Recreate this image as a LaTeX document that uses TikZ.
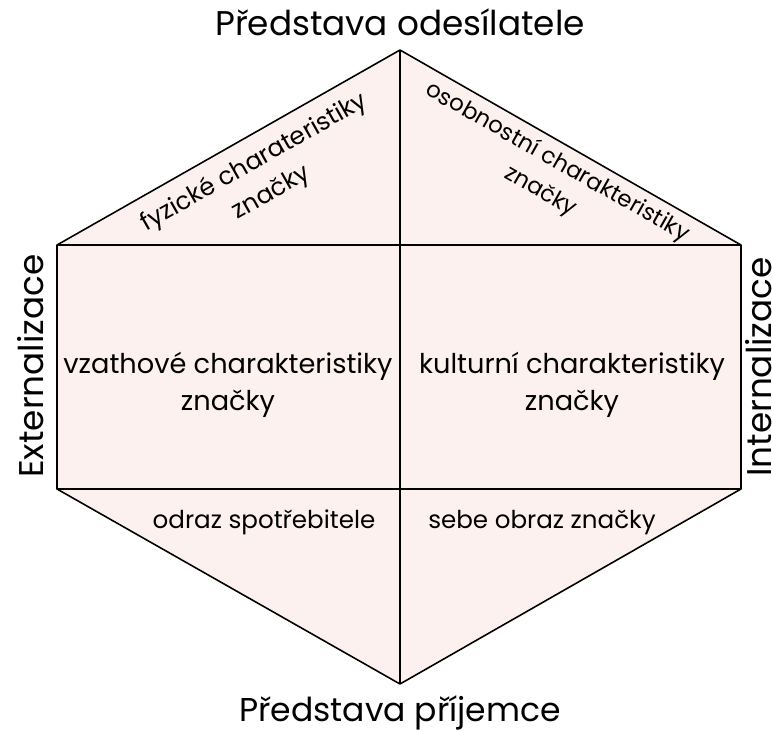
\documentclass[tikz,border=0pt]{standalone}
\usepackage{fontspec}
\setmainfont{Poppins}
\usepackage{tikz}
\usetikzlibrary{positioning}
\definecolor{hexfill}{HTML}{FDF1EF}
\tikzset{edge/.style={draw=black,line width=0.9pt},
  cell/.style={align=center,font=\fontsize{15.5}{21}\selectfont,inner sep=1pt},
  small/.style={cell,font=\fontsize{14}{20}\selectfont},
  side/.style={font=\fontsize{19.5}{22}\selectfont,inner sep=0pt}}

\begin{document}
\begin{tikzpicture}[x=0.02cm,y=-0.02cm]
\useasboundingbox (0,0) rectangle (772,731);
% corners of the hexagon
\coordinate (top) at (400,50);
\coordinate (ul) at (57,245);
\coordinate (ur) at (741,245);
\coordinate (ll) at (57,489);
\coordinate (lr) at (741,489);
\coordinate (bot) at (400,684);
\fill[hexfill] (top) -- (ur) -- (lr) -- (bot) -- (ll) -- (ul) -- cycle;
\draw[edge,line join=round] (top) -- (ur) -- (lr) -- (bot) -- (ll) -- (ul) -- cycle;
\draw[edge] (top) -- (bot);
\draw[edge] (ul) -- (ur);
\draw[edge] (ll) -- (lr);
% texts
\node[side] (sender) at (400,22) {Představa odesílatele};
\node[side,font=\fontsize{18.8}{22}\selectfont] (receiver) at (400,713) {Představa příjemce};
\node[side,rotate=90] (ext) at (31,366) {Externalizace};
\node[side,rotate=90] (int) at (759,367) {Internalizace};
\node[small,rotate=29.6] (phys) at (263,178) {fyzické charateristiky\\značky};
\node[small,rotate=-29.6,font=\fontsize{13}{19}\selectfont] (pers) at (549,177) {osobnostní charakteristiky\\značky};
\node[cell] (rel) at (228,385) {vzathové charakteristiky\\značky};
\node[cell] (cult) at (572,385) {kulturní charakteristiky\\značky};
\node[small] (refl) at (264,522) {odraz spotřebitele};
\node[small] (self) at (542,522) {sebe obraz značky};
\end{tikzpicture}
\end{document}
